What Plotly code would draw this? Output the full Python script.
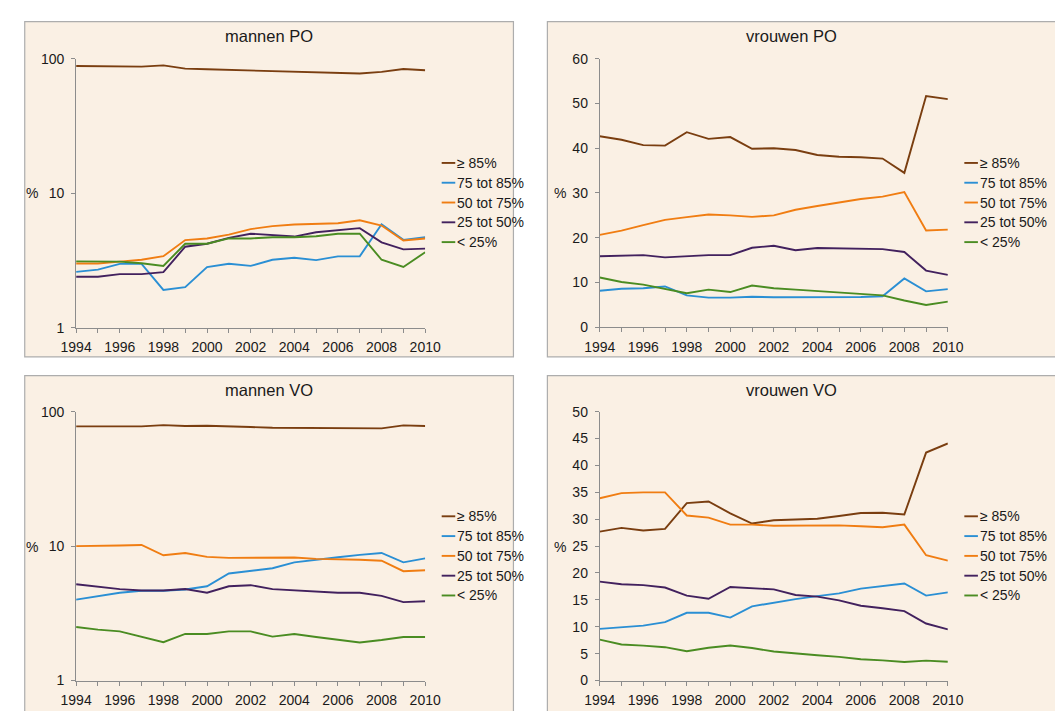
import plotly.graph_objects as go

# ---------------- data ----------------
years = list(range(1994, 2011))
series_names = ["≥ 85%", "75 tot 85%", "50 tot 75%", "25 tot 50%", "< 25%"]
panel_titles = ["mannen PO", "vrouwen PO", "mannen VO", "vrouwen VO"]
x_tick_labels = [str(y) if y % 2 == 0 else "" for y in years]

mannen_po_85 = [88.4, 88.4, 88.2, 87.5, 89.4, 84.6, 83.6, 82.7, 81.8, 80.9, 80.4, 80.0, 78.7, 77.8, 80.0, 84.1, 82.3]
mannen_po_75 = [2.6, 2.7, 2.98, 2.98, 1.91, 2.0, 2.82, 2.99, 2.88, 3.2, 3.31, 3.18, 3.39, 3.39, 5.88, 4.5, 4.7]
mannen_po_50 = [3.0, 3.0, 3.1, 3.2, 3.4, 4.48, 4.61, 4.92, 5.41, 5.69, 5.85, 5.88, 5.98, 6.29, 5.75, 4.45, 4.6]
mannen_po_25 = [2.39, 2.39, 2.5, 2.5, 2.59, 4.0, 4.21, 4.66, 5.0, 4.89, 4.76, 5.12, 5.29, 5.5, 4.31, 3.82, 3.87]
mannen_po_lt25 = [3.11, 3.11, 3.1, 3.01, 2.88, 4.21, 4.21, 4.61, 4.61, 4.71, 4.71, 4.79, 5.0, 5.0, 3.2, 2.83, 3.64]

vrouwen_po_85 = [42.7, 41.9, 40.7, 40.6, 43.6, 42.1, 42.5, 39.9, 40.0, 39.6, 38.5, 38.1, 38.0, 37.7, 34.5, 51.7, 51.0]
vrouwen_po_75 = [8.15, 8.6, 8.7, 9.1, 7.1, 6.6, 6.6, 6.8, 6.7, 6.7, 6.8, 6.75, 6.75, 6.9, 10.9, 8.0, 8.5]
vrouwen_po_50 = [20.65, 21.6, 22.8, 24.0, 24.6, 25.2, 25.0, 24.65, 25.0, 26.25, 27.1, 27.9, 28.65, 29.2, 30.2, 21.6, 21.8]
vrouwen_po_25 = [15.85, 15.9, 16.1, 15.6, 15.8, 16.1, 16.1, 17.75, 18.2, 17.2, 17.7, 17.6, 17.45, 17.45, 16.8, 12.65, 11.7]
vrouwen_po_lt25 = [11.1, 10.1, 9.5, 8.6, 7.6, 8.4, 7.85, 9.3, 8.7, 8.4, 8.1, 7.8, 7.5, 7.1, 5.95, 4.95, 5.7]

mannen_vo_85 = [77.8, 77.8, 77.8, 77.8, 79.5, 78.2, 78.6, 77.3, 76.9, 76.0, 76.0, 76.0, 76.0, 75.2, 75.2, 79.1, 78.2]
mannen_vo_75 = [4.0, 4.26, 4.5, 4.66, 4.66, 4.76, 5.03, 6.26, 6.55, 6.84, 7.57, 7.96, 8.27, 8.61, 8.89, 7.57, 8.1]
mannen_vo_50 = [10.0, 10.0, 10.1, 10.2, 8.55, 8.89, 8.32, 8.18, 8.22, 8.27, 8.22, 8.04, 8.0, 7.91, 7.78, 6.51, 6.62]
mannen_vo_25 = [5.2, 5.0, 4.79, 4.68, 4.68, 4.79, 4.5, 5.03, 5.12, 4.79, 4.71, 4.63, 4.5, 4.5, 4.26, 3.83, 3.89]
mannen_vo_lt25 = [2.5, 2.39, 2.32, 2.12, 1.93, 2.22, 2.22, 2.32, 2.32, 2.12, 2.22, 2.11, 2.0, 1.92, 2.0, 2.11, 2.11]

vrouwen_vo_85 = [27.7, 28.4, 27.9, 28.2, 33.0, 33.3, 31.1, 29.2, 29.8, 29.9, 30.1, 30.6, 31.15, 31.2, 30.9, 42.4, 44.1]
vrouwen_vo_75 = [9.6, 9.9, 10.2, 10.85, 12.6, 12.6, 11.7, 13.8, 14.5, 15.15, 15.7, 16.2, 17.1, 17.6, 18.05, 15.8, 16.4]
vrouwen_vo_50 = [33.9, 34.85, 35.0, 35.0, 30.7, 30.3, 29.0, 29.0, 28.8, 28.85, 28.8, 28.85, 28.7, 28.5, 29.0, 23.3, 22.3]
vrouwen_vo_25 = [18.4, 17.9, 17.75, 17.3, 15.8, 15.2, 17.4, 17.15, 16.95, 15.9, 15.6, 14.9, 13.9, 13.45, 12.9, 10.6, 9.5]
vrouwen_vo_lt25 = [7.6, 6.7, 6.5, 6.2, 5.45, 6.1, 6.5, 6.05, 5.4, 5.0, 4.7, 4.4, 3.95, 3.75, 3.45, 3.7, 3.5]

panels_data = [
    [mannen_po_85, mannen_po_75, mannen_po_50, mannen_po_25, mannen_po_lt25],
    [vrouwen_po_85, vrouwen_po_75, vrouwen_po_50, vrouwen_po_25, vrouwen_po_lt25],
    [mannen_vo_85, mannen_vo_75, mannen_vo_50, mannen_vo_25, mannen_vo_lt25],
    [vrouwen_vo_85, vrouwen_vo_75, vrouwen_vo_50, vrouwen_vo_25, vrouwen_vo_lt25],
]

# ---------------- styling ----------------
W, H = 1055, 711
colors = ["#7A3E10", "#2A8FD4", "#F07D12", "#42215E", "#4A8C22"]
bg = "#FAF0E4"
axis_grey = "#8C8C8C"
border_grey = "#ADADAD"
text_col = "#1A1A1A"
FONT = "Liberation Sans, Arial, sans-serif"
FS = 14


def px_x(p):
    return p / W


def px_y(p):
    return 1 - p / H


geom = [
    dict(px0=62, px1=422, py0=52, py1=327, bx0=9, bx1=513, by0=14, by1=357, legx=439, legy=158.5, pct=(17, 189)),
    dict(px0=602, px1=961, py0=52, py1=326.5, bx0=548, bx1=1075, by0=14, by1=357, legx=978, legy=158.5, pct=(561, 189)),
    dict(px0=62, px1=422, py0=413, py1=688, bx0=9, bx1=513, by0=376, by1=740, legx=439, legy=520, pct=(17, 551)),
    dict(px0=602, px1=961, py0=413, py1=688, bx0=548, bx1=1075, by0=376, by1=740, legx=978, legy=520, pct=(561, 551)),
]

y_cfg = [
    dict(type="log", range=[0, 2], tickvals=[1, 10, 100], ticktext=["1", "10", "100"]),
    dict(type="linear", range=[0, 60], tickvals=list(range(0, 61, 10))),
    dict(type="log", range=[0, 2], tickvals=[1, 10, 100], ticktext=["1", "10", "100"]),
    dict(type="linear", range=[0, 50], tickvals=list(range(0, 51, 5))),
]

fig = go.Figure()
shapes = []
annotations = []
layout_axes = {}

for i, (g, data) in enumerate(zip(geom, panels_data)):
    n = i + 1
    xa = "x" if n == 1 else f"x{n}"
    ya = "y" if n == 1 else f"y{n}"
    for name, vals, col in zip(series_names, data, colors):
        fig.add_trace(go.Scatter(
            x=years, y=vals, name=name, mode="lines",
            line=dict(color=col, width=1.9),
            xaxis=xa, yaxis=ya, showlegend=False,
        ))
    xkey = "xaxis" if n == 1 else f"xaxis{n}"
    ykey = "yaxis" if n == 1 else f"yaxis{n}"
    layout_axes[xkey] = dict(
        domain=[px_x(g["px0"]), px_x(g["px1"])], anchor=ya,
        range=[1994, 2010], tickmode="array", tickvals=years, ticktext=x_tick_labels,
        showline=True, linecolor=axis_grey, linewidth=1,
        ticks="outside", ticklen=4, tickcolor=axis_grey, tickwidth=1,
        ticklabelstandoff=3,
        showgrid=False, zeroline=False,
        tickfont=dict(size=FS, color=text_col, family=FONT),
    )
    yc = y_cfg[i]
    ydict = dict(
        domain=[px_y(g["py1"]), px_y(g["py0"])], anchor=xa,
        type=yc["type"], range=yc["range"], tickmode="array", tickvals=yc["tickvals"],
        showline=True, linecolor=axis_grey, linewidth=1,
        ticks="outside", ticklen=4, tickcolor=axis_grey, tickwidth=1,
        ticklabelstandoff=4,
        showgrid=False, zeroline=False,
        tickfont=dict(size=FS, color=text_col, family=FONT),
    )
    if "ticktext" in yc:
        ydict["ticktext"] = yc["ticktext"]
    layout_axes[ykey] = ydict

    shapes.append(dict(
        type="rect", xref="paper", yref="paper", layer="below",
        x0=px_x(g["bx0"]), x1=px_x(g["bx1"]), y0=px_y(g["by1"]), y1=px_y(g["by0"]),
        fillcolor=bg, line=dict(color=border_grey, width=1.2),
    ))
    annotations.append(dict(
        text=panel_titles[i], xref="paper", yref="paper",
        x=px_x(g["bx0"] + 252), y=px_y(g["by0"] + 15), xanchor="center", yanchor="middle",
        showarrow=False, font=dict(size=16.5, color=text_col, family=FONT),
    ))
    annotations.append(dict(
        text="%", xref="paper", yref="paper",
        x=px_x(g["pct"][0]), y=px_y(g["pct"][1]), xanchor="center", yanchor="middle",
        showarrow=False, font=dict(size=FS, color=text_col, family=FONT),
    ))
    for k, (name, col) in enumerate(zip(series_names, colors)):
        yy = g["legy"] + 20.25 * k
        shapes.append(dict(
            type="line", xref="paper", yref="paper",
            x0=px_x(g["legx"]), x1=px_x(g["legx"] + 14), y0=px_y(yy), y1=px_y(yy),
            line=dict(color=col, width=1.9),
        ))
        annotations.append(dict(
            text=name, xref="paper", yref="paper",
            x=px_x(g["legx"] + 14), y=px_y(yy), xanchor="left", yanchor="middle",
            showarrow=False, font=dict(size=FS, color=text_col, family=FONT),
        ))

fig.update_layout(
    width=W, height=H,
    margin=dict(l=0, r=0, t=0, b=0),
    paper_bgcolor="white", plot_bgcolor="rgba(0,0,0,0)",
    font=dict(family=FONT, color=text_col),
    shapes=shapes, annotations=annotations,
    showlegend=False,
    **layout_axes,
)

fig.write_html(
    "out.html",
    config={"displayModeBar": False},
    post_script="document.body.style.margin='0';document.body.style.overflow='hidden';",
)
